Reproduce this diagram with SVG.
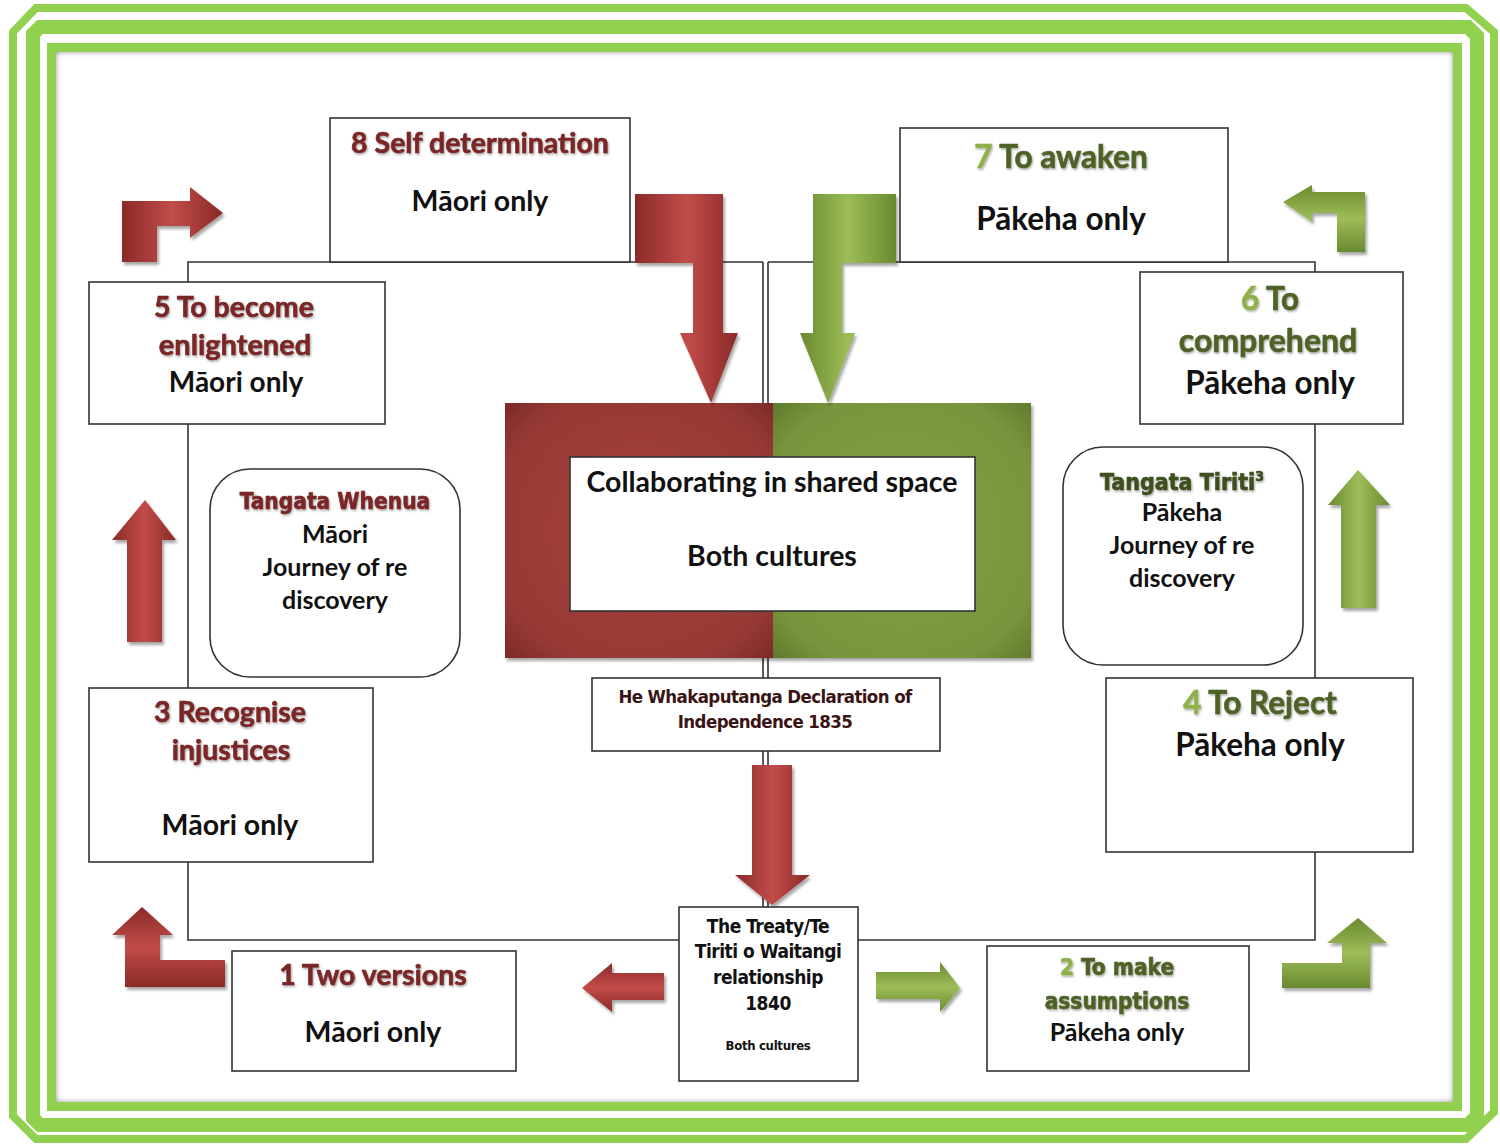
<svg xmlns="http://www.w3.org/2000/svg" width="1500" height="1144" viewBox="0 0 1500 1144">
  <defs>
    <style>
      .frame { fill: none; stroke: #92d050; }
      .box { fill: #ffffff; stroke: #333333; stroke-width: 1.6; }
      .link { fill: none; stroke: #333333; stroke-width: 1.6; }
      .t { font-family: Lato, "Liberation Sans", sans-serif; font-weight: bold; text-anchor: middle; fill: #111111; }
      .h { stroke-width: 0.6; }
      .red { fill: #7a2626; stroke: #7a2626; }
      .olive { fill: #4f6228; stroke: #4f6228; }
      .lime { fill: #8fb14a; stroke: #8fb14a; }
      .tiriti { fill: #3e4f1f; stroke: #3e4f1f; }
      .decl { fill: #3a1414; }
      .cond { font-family: "Liberation Sans Narrow", "DejaVu Sans Condensed", Lato, sans-serif; }
    </style>
    <linearGradient id="redV" x1="0" y1="0" x2="1" y2="0">
      <stop offset="0" stop-color="#8a2a28"/>
      <stop offset="0.5" stop-color="#c24c49"/>
      <stop offset="1" stop-color="#8a2a28"/>
    </linearGradient>
    <linearGradient id="redH" x1="0" y1="0" x2="0" y2="1">
      <stop offset="0" stop-color="#8a2a28"/>
      <stop offset="0.5" stop-color="#c24c49"/>
      <stop offset="1" stop-color="#8a2a28"/>
    </linearGradient>
    <linearGradient id="grnV" x1="0" y1="0" x2="1" y2="0">
      <stop offset="0" stop-color="#6a8a2f"/>
      <stop offset="0.5" stop-color="#9cbd58"/>
      <stop offset="1" stop-color="#6a8a2f"/>
    </linearGradient>
    <linearGradient id="grnH" x1="0" y1="0" x2="0" y2="1">
      <stop offset="0" stop-color="#6a8a2f"/>
      <stop offset="0.5" stop-color="#9cbd58"/>
      <stop offset="1" stop-color="#6a8a2f"/>
    </linearGradient>
    <radialGradient id="redBlock" cx="0.5" cy="0.5" r="0.7">
      <stop offset="0" stop-color="#a8403d"/>
      <stop offset="0.8" stop-color="#963935"/>
      <stop offset="1" stop-color="#7e2a28"/>
    </radialGradient>
    <radialGradient id="grnBlock" cx="0.5" cy="0.5" r="0.7">
      <stop offset="0" stop-color="#82a343"/>
      <stop offset="0.8" stop-color="#77953c"/>
      <stop offset="1" stop-color="#617c2e"/>
    </radialGradient>
    <filter id="shadow" x="-20%" y="-20%" width="140%" height="140%">
      <feDropShadow dx="2" dy="3" stdDeviation="1.5" flood-color="#000" flood-opacity="0.35"/>
    </filter>
    <filter id="txtShadow" x="-10%" y="-30%" width="120%" height="160%">
      <feDropShadow dx="1" dy="1.5" stdDeviation="0.8" flood-color="#000" flood-opacity="0.35"/>
    </filter>
    <filter id="inset" x="-5%" y="-5%" width="110%" height="110%">
      <feGaussianBlur stdDeviation="3"/>
    </filter>
    <clipPath id="innerClip">
      <rect x="56" y="52" width="1397" height="1050"/>
    </clipPath>
  </defs>

  <!-- page frame -->
  <rect x="0" y="0" width="1500" height="1144" fill="#ffffff"/>
  <polygon class="frame" stroke-width="8" points="36,8 1466,8 1494,32 1494,1112 1466,1139 36,1139 13,1116 13,32"/>
  <polygon class="frame" stroke-width="14" points="40,27 1468,27 1477,36 1477,1116 1468,1125 40,1125 33,1118 33,34"/>
  <rect class="frame" stroke-width="9" x="51.5" y="47.5" width="1406" height="1059"/>
  <rect x="56" y="52" width="1397" height="1050" fill="#ffffff"/>
  <g clip-path="url(#innerClip)">
    <rect x="52" y="48" width="1405" height="1058" fill="none" stroke="#777777" stroke-width="6" filter="url(#inset)"/>
  </g>

  <!-- connectors -->
  <g id="connectors">
    <path class="link" d="M763,262 H188 V940 H679"/>
    <path class="link" d="M768,262 H1315 V940 H858"/>
    <line class="link" x1="763" y1="262" x2="763" y2="907"/>
    <line class="link" x1="768" y1="262" x2="768" y2="907"/>
  </g>

  <!-- shared space block -->
  <g id="shared-space">
    <g filter="url(#shadow)">
      <rect x="505" y="403" width="269" height="255" fill="url(#redBlock)"/>
      <rect x="773" y="403" width="258" height="255" fill="url(#grnBlock)"/>
    </g>
    <rect class="box" x="570" y="457" width="405" height="154"/>
    <text class="t" x="772" y="492" font-size="28.5">Collaborating in shared space</text>
    <text class="t" x="772" y="566" font-size="28.5">Both cultures</text>
  </g>

  <!-- arrows -->
  <g id="arrows" filter="url(#shadow)">
    <path fill="url(#redV)" d="M122,262 L122,201 L190,201 L190,187 L223,213 L190,238 L190,226 L157,226 L157,262 Z"/>
    <path fill="url(#redV)" d="M127,642 L127,540 L112,540 L145,500 L176,540 L162,540 L162,642 Z"/>
    <path fill="url(#redH)" d="M125,987 L125,935 L112,935 L142,907 L173,935 L160,935 L160,960 L225,960 L225,987 Z"/>
    <path fill="url(#redH)" d="M664,973 L612,973 L612,963 L582,988 L612,1012 L612,1000 L664,1000 Z"/>
    <path fill="url(#redV)" d="M752,765 L792,765 L792,875 L810,875 L772,905 L735,875 L752,875 Z"/>
    <path fill="url(#redV)" d="M635,194 L723,194 L723,333 L738,333 L711,403 L680,333 L693,333 L693,263 L635,263 Z"/>
    <path fill="url(#grnV)" d="M813,194 L896,194 L896,263 L842,263 L842,333 L855,333 L828,403 L800,333 L813,333 Z"/>
    <path fill="url(#grnH)" d="M1365,192 L1365,252 L1337,252 L1337,213 L1312,213 L1312,222 L1283,202 L1312,185 L1312,192 Z"/>
    <path fill="url(#grnV)" d="M1341,608 L1341,505 L1328,505 L1358,470 L1390,505 L1376,505 L1376,608 Z"/>
    <path fill="url(#grnH)" d="M876,972 L940,972 L940,962 L960,988 L940,1012 L940,999 L876,999 Z"/>
    <path fill="url(#grnH)" d="M1282,963 L1342,963 L1342,943 L1327,943 L1358,918 L1387,943 L1370,943 L1370,988 L1282,988 Z"/>
  </g>

  <!-- stage 8 -->
  <g id="stage-8">
    <rect class="box" x="330" y="118" width="300" height="144"/>
    <text class="t h red" x="480" y="153" font-size="28.5" filter="url(#txtShadow)">8 Self determination</text>
    <text class="t" x="480" y="211" font-size="28.5">Māori only</text>
  </g>

  <!-- stage 7 -->
  <g id="stage-7">
    <rect class="box" x="900" y="128" width="328" height="134"/>
    <text class="t h olive" x="1061" y="168" font-size="31.5" filter="url(#txtShadow)"><tspan class="lime">7</tspan> To awaken</text>
    <text class="t" x="1061" y="230" font-size="31.5">Pākeha only</text>
  </g>

  <!-- stage 5 -->
  <g id="stage-5">
    <rect class="box" x="89" y="282" width="296" height="142"/>
    <text class="t h red" x="234" y="317" font-size="28.5" filter="url(#txtShadow)">5 To become</text>
    <text class="t h red" x="235" y="355" font-size="29" filter="url(#txtShadow)">enlightened</text>
    <text class="t" x="236" y="392" font-size="28">Māori only</text>
  </g>

  <!-- stage 6 -->
  <g id="stage-6">
    <rect class="box" x="1140" y="272" width="263" height="152"/>
    <text class="t h olive" x="1270" y="310" font-size="31.5" filter="url(#txtShadow)"><tspan class="lime">6</tspan> To</text>
    <text class="t h olive" x="1268" y="352" font-size="32" filter="url(#txtShadow)">comprehend</text>
    <text class="t" x="1270" y="394" font-size="31.5">Pākeha only</text>
  </g>

  <!-- Tangata Whenua -->
  <g id="tangata-whenua">
    <rect class="box" x="210" y="469" width="250" height="208" rx="40"/>
    <text class="t h red cond" x="335" y="509" font-size="22.5" filter="url(#txtShadow)">Tangata Whenua</text>
    <text class="t" x="335" y="543" font-size="25">Māori</text>
    <text class="t" x="335" y="576" font-size="25">Journey of re</text>
    <text class="t" x="335" y="609" font-size="25">discovery</text>
  </g>

  <!-- Tangata Tiriti -->
  <g id="tangata-tiriti">
    <rect class="box" x="1063" y="447" width="240" height="218" rx="40"/>
    <text class="t h tiriti cond" x="1182" y="490" font-size="23" filter="url(#txtShadow)">Tangata Tiriti<tspan font-size="14" dy="-9">3</tspan></text>
    <text class="t" x="1182" y="521" font-size="25">Pākeha</text>
    <text class="t" x="1182" y="554" font-size="25">Journey of re</text>
    <text class="t" x="1182" y="587" font-size="25">discovery</text>
  </g>

  <!-- He Whakaputanga -->
  <g id="declaration">
    <rect class="box" x="592" y="678" width="348" height="73"/>
    <text class="t decl cond" x="765" y="703" font-size="18.5" letter-spacing="-0.6">He Whakaputanga Declaration of</text>
    <text class="t decl cond" x="765" y="728" font-size="18.5" letter-spacing="-0.6">Independence 1835</text>
  </g>

  <!-- stage 3 -->
  <g id="stage-3">
    <rect class="box" x="89" y="688" width="284" height="174"/>
    <text class="t h red" x="230" y="722" font-size="28.5" filter="url(#txtShadow)">3 Recognise</text>
    <text class="t h red" x="231" y="760" font-size="28.5" filter="url(#txtShadow)">injustices</text>
    <text class="t" x="230" y="835" font-size="28.5">Māori only</text>
  </g>

  <!-- stage 4 -->
  <g id="stage-4">
    <rect class="box" x="1106" y="678" width="307" height="174"/>
    <text class="t h olive" x="1260" y="714" font-size="31.5" filter="url(#txtShadow)"><tspan class="lime">4</tspan> To Reject</text>
    <text class="t" x="1260" y="756" font-size="31.5">Pākeha only</text>
  </g>

  <!-- The Treaty -->
  <g id="treaty">
    <rect class="box" x="679" y="907" width="179" height="174"/>
    <text class="t cond" x="768" y="933" font-size="19" letter-spacing="-0.5">The Treaty/Te</text>
    <text class="t cond" x="768" y="958" font-size="19" letter-spacing="-0.5">Tiriti o Waitangi</text>
    <text class="t cond" x="768" y="984" font-size="19" letter-spacing="-0.5">relationship</text>
    <text class="t cond" x="768" y="1010" font-size="19" letter-spacing="-0.5">1840</text>
    <text class="t cond" x="768" y="1050" font-size="13" letter-spacing="-0.3">Both cultures</text>
  </g>

  <!-- stage 1 -->
  <g id="stage-1">
    <rect class="box" x="232" y="951" width="284" height="120"/>
    <text class="t h red" x="373" y="985" font-size="28.5" filter="url(#txtShadow)">1 Two versions</text>
    <text class="t" x="373" y="1042" font-size="28.5">Māori only</text>
  </g>

  <!-- stage 2 -->
  <g id="stage-2">
    <rect class="box" x="987" y="946" width="262" height="125"/>
    <text class="t h olive cond" x="1117" y="975" font-size="22.5" filter="url(#txtShadow)"><tspan class="lime">2</tspan> To make</text>
    <text class="t h olive cond" x="1117" y="1009" font-size="22.5" filter="url(#txtShadow)">assumptions</text>
    <text class="t" x="1117" y="1041" font-size="25">Pākeha only</text>
  </g>
</svg>
